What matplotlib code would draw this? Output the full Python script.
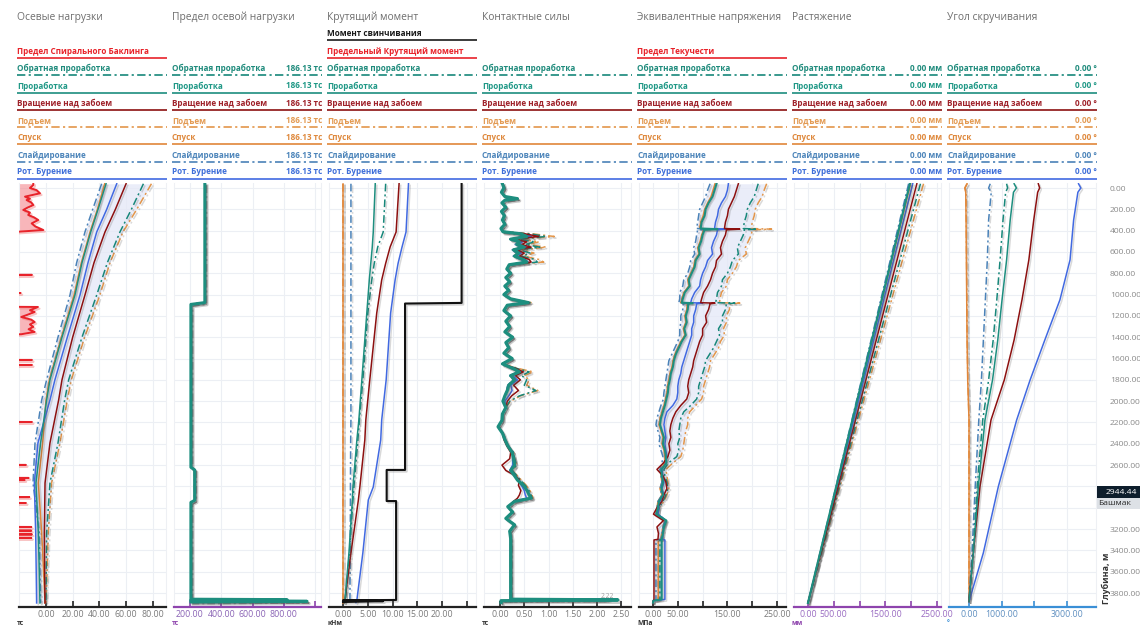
import numpy as np
import matplotlib
matplotlib.use("Agg")
import matplotlib.pyplot as plt
import matplotlib.patheffects as pe
from matplotlib.patches import Rectangle

plt.rcParams['font.family'] = ['Open Sans', 'DejaVu Sans']

# ------------------------------------------------------------------ data
DEPTH_TICKS = list(range(0, 3801, 200))
HIDDEN_DEPTH_LABELS = [2800, 3000]
SHOE_DEPTH = 2944.44

SERIES_KEYS = ["BR", "RM", "RB", "PU", "SO", "SL", "DR"]
SERIES_NAMES = ["Обратная проработка", "Проработка", "Вращение над забоем",
                "Подъем", "Спуск", "Слайдирование", "Рот. Бурение"]

PANEL_TITLES = ["Осевые нагрузки", "Предел осевой нагрузки", "Крутящий момент",
                "Контактные силы", "Эквивалентные напряжения", "Растяжение",
                "Угол скручивания"]
PANEL_UNITS = ["тс", "тс", "кНм", "тс", "МПа", "мм", "°"]
AXIAL_LIMIT_READOUT = "186.13 тс"
STRETCH_READOUT = "0.00 мм"
TWIST_READOUT = "0.00 °"

# --- axial loads, t
AXIAL_DEPTH = [-40, 200, 413, 700, 1004, 1400, 1800, 1989, 2392, 2767, 3236, 3600, 3893]
AXIAL_BR = [73, 64, 55.4, 46, 38, 27, 17, 14, 9, 3, 0.5, 0.2, 0]
AXIAL_RM = [45, 39, 33.5, 27, 21.7, 12, 3, 0.5, -4, -7.5, -5.7, -5, -4.5]
AXIAL_RB = [60, 52, 44.2, 36, 29.2, 20, 12, 9.5, 3, -0.7, -1.2, -1, -0.7]
AXIAL_PU = [79, 68, 57.7, 48, 40.4, 29, 19, 16, 10.5, 4.2, 1.7, 0.8, 0]
AXIAL_SO = [44, 38.5, 33, 26.5, 21, 11.5, 2.5, 0, -2.5, -5.7, -3.2, -1.8, -0.7]
AXIAL_SL = [41.7, 35, 29.2, 23, 18, 9, 0.5, -3.2, -8.2, -9.7, -5, -4.5, -4]
AXIAL_DR = [53, 45.5, 38, 31.5, 25.5, 16, 6.7, 3, -6, -8.7, -7.7, -7.3, -7]

# helical buckling limit (values beyond the left edge are off scale)
BUCKLING_OFFSCALE = -60
BUCKLING_TOP_DEPTH = [-40, -28, 0, 20, 50, 81, 100, 113, 135, 160, 185, 206, 230, 253,
                      275, 300, 332, 360, 394, 410]
BUCKLING_TOP_VALUE = [-9.5, -9.5, -12, -7, -4.5, -15.7, -12, -14.5, -11, -9.5, -14, -17,
                      -12, -13.3, -9, -5.8, -10.7, -8, -2, -20.7]
BUCKLING_MID_DEPTH = [1116, 1147, 1163, 1190, 1210, 1235, 1257, 1280, 1303, 1325, 1350, 1372]
BUCKLING_MID_VALUE = [-6, -12, -8.5, -14, -18.5, -11, -8.5, -12, -9.5, -13, -8.5, -18.5]
BUCKLING_SPIKE_DEPTH = [815, 985, 1613, 1660, 2195, 2598, 2720, 2740, 2900, 2955,
                        3180, 3215, 3250, 3283]
BUCKLING_SPIKE_VALUE = [-10.5, -19, -10.5, -10.5, -10.5, -15, -13, -16, -12.5, -15,
                        -11, -11, -10.5, -11]

# --- axial load limit, t (identical for all operations)
ALLOWED_DEPTH = [-40, 1075, 1092, 2620, 2645, 2930, 2950, 3858, 3862, 3868, 3878, 3884]
ALLOWED_LOAD = [295, 295, 206, 206, 230, 230, 206, 206, 820, 206, 948, 206]

# --- torque, kN*m
TORQUE_DEPTH = [-40, 413, 553, 707, 863, 1173, 1800, 2176, 2364, 2805, 2927, 3424, 3865, 3890]
TORQUE_BR = [8.6, 8.1, 7.0, 6.3, 5.8, 5.0, 4.0, 3.3, 3.0, 2.2, 2.0, 1.3, 0.5, 0.3]
TORQUE_RM = [6.5, 6.1, 5.9, 5.6, 5.3, 4.8, 3.8, 3.2, 2.8, 2.0, 1.9, 1.2, 0.4, 0.3]
TORQUE_RB = [11.3, 10.7, 9.5, 8.6, 7.8, 6.8, 5.4, 4.6, 4.4, 3.4, 3.1, 1.6, 0.4, 0.3]
TORQUE_PU = [0.02, 0.02, 0.02, 0.02, 0.02, 0.02, 0.02, 0.02, 0.02, 0.02, 0.02, 0.02, 0.02, 0.02]
TORQUE_SO = [0.05, 0.05, 0.05, 0.05, 0.05, 0.05, 0.05, 0.05, 0.05, 0.05, 0.05, 0.05, 0.05, 0.05]
TORQUE_SL = [1.6, 1.6, 1.6, 1.6, 1.6, 1.6, 1.6, 1.6, 1.55, 1.5, 1.5, 1.45, 1.4, 1.4]
TORQUE_DR = [13.2, 12.7, 11.9, 11.1, 10.5, 9.6, 8.7, 7.8, 7.6, 6.1, 5.1, 4.0, 2.8, 2.6]
MAKEUP_DEPTH = [-40, 1078, 1084, 2645, 2645, 2937, 2937, 3865, 3868, 3876, 3884]
MAKEUP_TORQUE = [23.9, 23.9, 12.5, 12.5, 8.8, 8.8, 10.7, 10.7, 0.0, 8.1, 0.0]

# --- side (contact) forces, t
CONTACT_DEPTH = [-40, 0, 40, 80, 100, 115, 140, 180, 220, 260,
                 300, 340, 380, 410, 430, 455, 480, 505, 530, 555,
                 580, 610, 640, 670, 695, 720, 760, 800, 840, 880,
                 920, 960, 1000, 1040, 1075, 1100, 1150, 1200, 1250, 1300,
                 1350, 1400, 1450, 1500, 1550, 1600, 1650, 1700, 1725, 1760,
                 1800, 1850, 1900, 1950, 2000, 2060, 2120, 2180, 2240, 2300,
                 2360, 2420, 2480, 2540, 2600, 2650, 2700, 2740, 2790, 2840,
                 2880, 2910, 2940, 2990, 3040, 3100, 3160, 3220, 3290, 3858,
                 3864, 3872, 3890]
CONTACT_RM = [0.05, 0.08, 0.03, 0.10, 0.36, 0.10, 0.04, 0.12, 0.03, 0.09,
              0.05, 0.10, 0.02, 0.06, 0.43, 0.55, 0.22, 0.40, 0.35, 0.50,
              0.28, 0.38, 0.30, 0.48, 0.55, 0.19, 0.14, 0.22, 0.12, 0.20,
              0.10, 0.18, 0.08, 0.22, 0.58, 0.15, 0.08, 0.22, 0.12, 0.20,
              0.10, 0.26, 0.12, 0.18, 0.08, 0.25, 0.05, 0.30, 0.40, 0.22,
              0.30, 0.18, 0.15, 0.10, 0.06, 0.12, 0.05, 0.04, -0.04, 0.05,
              0.10, 0.16, 0.25, 0.28, 0.30, 0.22, 0.30, 0.36, 0.48, 0.56,
              0.60, 0.64, 0.30, 0.16, 0.26, 0.12, 0.30, 0.20, 0.22, 0.22,
              2.43, 0.02, 0.02]
CONTACT_RB = [0.05, 0.08, 0.03, 0.10, 0.34, 0.10, 0.04, 0.12, 0.03, 0.09,
              0.05, 0.10, 0.02, 0.06, 0.52, 0.80, 0.30, 0.55, 0.45, 0.64,
              0.35, 0.50, 0.40, 0.60, 0.64, 0.22, 0.14, 0.22, 0.12, 0.20,
              0.10, 0.18, 0.08, 0.22, 0.60, 0.15, 0.08, 0.22, 0.12, 0.20,
              0.10, 0.26, 0.12, 0.18, 0.08, 0.25, 0.05, 0.36, 0.48, 0.32,
              0.42, 0.28, 0.38, 0.24, 0.15, 0.12, 0.05, 0.04, -0.02, 0.05,
              0.08, 0.14, 0.22, 0.20, 0.04, 0.12, 0.32, 0.40, 0.38, 0.43,
              0.40, 0.36, 0.28, 0.16, 0.26, 0.12, 0.30, 0.20, 0.22, 0.22,
              2.20, 0.02, 0.02]
CONTACT_BR = [0.05, 0.08, 0.03, 0.10, 0.36, 0.10, 0.04, 0.12, 0.03, 0.09,
              0.05, 0.10, 0.02, 0.06, 0.62, 0.95, 0.35, 0.72, 0.52, 0.82,
              0.40, 0.62, 0.45, 0.72, 0.77, 0.22, 0.14, 0.22, 0.12, 0.20,
              0.10, 0.18, 0.08, 0.22, 0.62, 0.15, 0.08, 0.22, 0.12, 0.20,
              0.10, 0.26, 0.12, 0.18, 0.08, 0.25, 0.05, 0.40, 0.60, 0.45,
              0.55, 0.50, 0.74, 0.40, 0.20, 0.12, 0.05, 0.04, -0.04, 0.05,
              0.10, 0.16, 0.28, 0.30, 0.34, 0.25, 0.35, 0.42, 0.52, 0.60,
              0.64, 0.66, 0.32, 0.16, 0.26, 0.12, 0.30, 0.20, 0.22, 0.22,
              2.30, 0.02, 0.02]
CONTACT_PU = [0.05, 0.08, 0.03, 0.10, 0.36, 0.10, 0.04, 0.12, 0.03, 0.09,
              0.05, 0.10, 0.02, 0.06, 0.68, 1.12, 0.38, 0.80, 0.58, 0.95,
              0.45, 0.70, 0.50, 0.80, 0.90, 0.22, 0.14, 0.22, 0.12, 0.20,
              0.10, 0.18, 0.08, 0.22, 0.64, 0.15, 0.08, 0.22, 0.12, 0.20,
              0.10, 0.26, 0.12, 0.18, 0.08, 0.25, 0.05, 0.44, 0.68, 0.50,
              0.60, 0.55, 0.78, 0.42, 0.22, 0.12, 0.05, 0.04, -0.04, 0.05,
              0.10, 0.16, 0.28, 0.30, 0.34, 0.25, 0.36, 0.44, 0.54, 0.62,
              0.66, 0.68, 0.32, 0.16, 0.26, 0.12, 0.30, 0.20, 0.22, 0.22,
              2.25, 0.02, 0.02]
CONTACT_SO = [0.05, 0.08, 0.03, 0.10, 0.36, 0.10, 0.04, 0.12, 0.03, 0.09,
              0.05, 0.10, 0.02, 0.06, 0.40, 0.50, 0.20, 0.38, 0.33, 0.46,
              0.26, 0.36, 0.28, 0.45, 0.52, 0.19, 0.14, 0.22, 0.12, 0.20,
              0.10, 0.18, 0.08, 0.22, 0.58, 0.15, 0.08, 0.22, 0.12, 0.20,
              0.10, 0.26, 0.12, 0.18, 0.08, 0.25, 0.05, 0.29, 0.38, 0.21,
              0.28, 0.17, 0.14, 0.10, 0.06, 0.12, 0.05, 0.04, -0.04, 0.05,
              0.10, 0.16, 0.25, 0.28, 0.30, 0.22, 0.30, 0.36, 0.48, 0.56,
              0.60, 0.64, 0.30, 0.16, 0.26, 0.12, 0.30, 0.20, 0.22, 0.22,
              2.22, 0.02, 0.02]
CONTACT_SL = [0.05, 0.08, 0.03, 0.10, 0.36, 0.10, 0.04, 0.12, 0.03, 0.09,
              0.05, 0.10, 0.02, 0.06, 0.38, 0.48, 0.20, 0.36, 0.31, 0.44,
              0.25, 0.34, 0.27, 0.43, 0.50, 0.19, 0.14, 0.22, 0.12, 0.20,
              0.10, 0.18, 0.08, 0.22, 0.58, 0.15, 0.08, 0.22, 0.12, 0.20,
              0.10, 0.26, 0.12, 0.18, 0.08, 0.25, 0.05, 0.28, 0.36, 0.20,
              0.27, 0.16, 0.13, 0.10, 0.06, 0.12, 0.05, 0.04, -0.04, 0.05,
              0.10, 0.16, 0.25, 0.28, 0.30, 0.22, 0.30, 0.36, 0.48, 0.56,
              0.60, 0.64, 0.30, 0.16, 0.26, 0.12, 0.30, 0.20, 0.22, 0.22,
              2.22, 0.02, 0.02]
CONTACT_DR = [0.05, 0.08, 0.03, 0.10, 0.36, 0.10, 0.04, 0.12, 0.03, 0.09,
              0.05, 0.10, 0.02, 0.06, 0.46, 0.65, 0.26, 0.46, 0.40, 0.56,
              0.30, 0.44, 0.34, 0.52, 0.58, 0.20, 0.14, 0.22, 0.12, 0.20,
              0.10, 0.18, 0.08, 0.22, 0.58, 0.15, 0.08, 0.22, 0.12, 0.20,
              0.10, 0.26, 0.12, 0.18, 0.08, 0.25, 0.05, 0.32, 0.44, 0.26,
              0.36, 0.22, 0.25, 0.18, 0.10, 0.12, 0.05, 0.04, -0.04, 0.05,
              0.10, 0.17, 0.26, 0.26, 0.26, 0.20, 0.31, 0.38, 0.44, 0.50,
              0.52, 0.55, 0.30, 0.16, 0.26, 0.12, 0.30, 0.20, 0.22, 0.22,
              2.22, 0.02, 0.02]
CONTACT_PEAK_LABEL = 2.22

# --- von Mises stress, MPa
STRESS_DEPTH = [-40, 20, 80, 140, 200, 260, 320, 380, 386, 392,
                440, 500, 560, 620, 680, 740, 800, 860, 920, 980,
                1040, 1076, 1080, 1086, 1140, 1200, 1260, 1320, 1380, 1440,
                1500, 1560, 1620, 1680, 1740, 1800, 1860, 1920, 1980, 2040,
                2100, 2160, 2220, 2280, 2340, 2400, 2460, 2520, 2580, 2640,
                2700, 2760, 2820, 2880, 2940, 3000, 3060, 3120, 3180, 3240,
                3296, 3302, 3860, 3872, 3890]
STRESS_RM = [128, 124, 120, 112, 106, 104, 98, 96, 130, 104,
             100, 97, 92, 94, 86, 84, 78, 72, 74, 64,
             60, 58, 80, 71, 70, 66, 68, 63, 66, 58,
             52, 46, 42, 40, 36, 34, 31, 30, 27, 24,
             20, 16, 14, 18, 22, 20, 24, 26, 27, 17,
             18, 20, 17, 20, 12, 10, 7, 27, 22, 20,
             18, 17.5, 17.5, 0.7, 0]
STRESS_RB = [172, 168, 164, 158, 152, 150, 146, 144, 175, 148,
             146, 140, 136, 138, 128, 126, 120, 116, 110, 102,
             98, 96, 125, 115, 112, 106, 108, 100, 100, 94,
             90, 86, 82, 80, 76, 72, 70, 72, 68, 56,
             46, 40, 36, 34, 36, 32, 34, 30, 21, 8,
             20, 26, 28, 22, 18, 8, 1, 21, 8, 11,
             10, 2, 2, 0.7, 0]
STRESS_DR = [152, 150, 146, 138, 132, 130, 126, 124, 150, 130,
             128, 122, 118, 120, 110, 106, 100, 96, 94, 84,
             78, 76, 100, 88, 86, 82, 82, 78, 78, 74,
             70, 66, 62, 58, 56, 52, 50, 50, 48, 40,
             28, 24, 22, 24, 26, 24, 26, 28, 26, 18,
             20, 22, 18, 22, 14, 12, 10, 26, 22, 20,
             19, 24, 24, 0.7, 0]
STRESS_SL = [115, 110, 106, 100, 94, 92, 90, 88, 115, 90,
             88, 86, 82, 84, 76, 74, 70, 62, 60, 54,
             54, 52, 70, 61, 60, 56, 56, 54, 54, 50,
             44, 38, 32, 30, 28, 26, 24, 22, 21, 16,
             12, 8, 6, 10, 14, 12, 16, 20, 18, 14,
             16, 18, 14, 18, 10, 8, 6, 24, 20, 18,
             16, 6, 6, 0.7, 0]
STRESS_SO = [125, 121, 117, 110, 104, 101, 96, 94, 128, 102,
             98, 95, 90, 92, 84, 82, 76, 70, 72, 62,
             58, 56, 78, 69, 68, 64, 66, 61, 64, 56,
             50, 44, 40, 38, 34, 32, 29, 28, 25, 22,
             18, 14, 12, 16, 20, 18, 22, 24, 24, 15,
             16, 18, 14, 18, 10, 8, 6, 24, 20, 18,
             16, 10.7, 10.7, 0.7, 0]
STRESS_BR = [212, 208, 204, 196, 190, 188, 184, 182, 210, 184,
             182, 176, 170, 172, 160, 156, 150, 140, 138, 130,
             128, 126, 165, 148, 146, 140, 140, 132, 134, 128,
             122, 114, 106, 104, 100, 96, 92, 92, 88, 76,
             62, 56, 54, 52, 54, 50, 52, 48, 31, 22,
             24, 28, 30, 26, 20, 12, 10, 26, 22, 20,
             18, 14, 14, 0.7, 0]
STRESS_PU = [229, 224, 220, 212, 206, 204, 200, 198, 239, 200,
             198, 192, 186, 188, 172, 168, 160, 150, 148, 138,
             135, 134, 175, 155, 154, 148, 148, 142, 144, 136,
             132, 124, 116, 114, 110, 106, 102, 102, 98, 86,
             74, 70, 70, 66, 64, 62, 60, 56, 40, 26,
             28, 30, 32, 28, 22, 12, 10, 24, 20, 18,
             16, 10.7, 10.7, 0.7, 0]

# --- elongation, mm
STRETCH_DEPTH = [-40, 3893]
STRETCH_BR = [2180, 0]
STRETCH_RM = [1975, 0]
STRETCH_RB = [2110, 0]
STRETCH_PU = [2240, 0]
STRETCH_SO = [1990, 0]
STRETCH_SL = [1950, 0]
STRETCH_DR = [2030, 0]

# --- twist angle, deg
TWIST_DEPTH = [-40, 0, 40, 300, 675, 1050, 1425, 1800, 2176, 2801, 3424, 3880]
TWIST_BR = [1150, 1180, 1120, 1040, 950, 850, 740, 600, 420, 250, 120, 0]
TWIST_RM = [1380, 1450, 1360, 1260, 1150, 1010, 880, 720, 489, 285, 132, 0]
TWIST_RB = [2120, 2160, 2100, 1980, 1830, 1620, 1380, 1080, 673, 336, 132, 0]
TWIST_PU = [-60, -120, -90, -85, -75, -65, -55, -35, 0, 0, 0, 0]
TWIST_SO = [-60, -130, -100, -90, -80, -70, -60, -40, 0, 0, 0, 0]
TWIST_SL = [650, 600, 680, 600, 560, 500, 440, 380, 300, 190, 90, 0]
TWIST_DR = [3350, 3420, 3330, 3200, 3090, 2780, 2320, 1870, 1458, 897, 438, 0]

# ------------------------------------------------------------------ styling
LINE_COLOR = {"BR": "#17877a", "RM": "#1d8e7f", "RB": "#8c1010", "PU": "#e3964a",
              "SO": "#e0863a", "SL": "#4a82b8", "DR": "#4169e1"}
TEXT_COLOR = {"BR": "#1f8b7c", "RM": "#1f9886", "RB": "#9f222a", "PU": "#e39a52",
              "SO": "#df893d", "SL": "#4d85ba", "DR": "#3f6fd9"}
DASHED = {"BR", "PU", "SL"}
DASH = (0, (5, 2, 1.3, 2))
DRAW_ORDER = ["PU", "SO", "SL", "BR", "DR", "RB", "RM"]
LIMIT_RED = "#e8232a"

FIG_W, FIG_H = 1140, 627
PLOT_TOP, PLOT_BOTTOM = 183, 607
PANEL_PITCH = 155
PLOT_LEFT0, PLOT_W = 19, 147
LEG_LEFT0, LEG_W = 17, 150
DEPTH_LIM = (3931, -47)

fig = plt.figure(figsize=(FIG_W / 100, FIG_H / 100), dpi=100)
fig.patch.set_facecolor("white")


def shadow(width=1.5, alpha=0.28):
    return [pe.SimpleLineShadow(offset=(width, -width), shadow_color="#555555", alpha=alpha),
            pe.Normal()]


def make_axes(i, xlim, xticks, labelled, axis_color, label_color):
    left = PLOT_LEFT0 + PANEL_PITCH * i
    ax = fig.add_axes([left / FIG_W, 1 - PLOT_BOTTOM / FIG_H,
                       PLOT_W / FIG_W, (PLOT_BOTTOM - PLOT_TOP) / FIG_H])
    ax.set_xlim(*xlim)
    ax.set_ylim(*DEPTH_LIM)
    ax.set_xticks(xticks)
    ax.set_xticklabels([f"{t:.2f}" if t in labelled else "" for t in xticks])
    ax.set_yticks(DEPTH_TICKS)
    ax.set_yticklabels([])
    ax.tick_params(axis="y", length=0)
    ax.tick_params(axis="x", direction="in", length=4, width=1.2, color=axis_color,
                   labelcolor=label_color, labelsize=6.3, pad=2.5)
    ax.grid(True, color="#eceff4", lw=0.8)
    ax.set_axisbelow(True)
    for s in ("left", "right"):
        ax.spines[s].set_color("#eef0f4")
        ax.spines[s].set_linewidth(0.8)
    ax.spines["top"].set_visible(False)
    ax.spines["bottom"].set_color(axis_color)
    ax.spines["bottom"].set_linewidth(1.6)
    return ax


def draw_series(ax, depth, values, lw=1.1, thick=None):
    for key in DRAW_ORDER:
        w = thick if (thick is not None and key == "RM") else lw
        ax.plot(values[key], depth, color=LINE_COLOR[key], lw=w,
                ls=DASH if key in DASHED else "-", zorder=3,
                path_effects=shadow(1.6 if w > 1.5 else 1.2, 0.3 if w > 1.5 else 0.22))


def envelope(ax, depth, values):
    arr = np.array([values[k] for k in SERIES_KEYS], dtype=float)
    ax.fill_betweenx(depth, arr.min(axis=0), arr.max(axis=0), color="#e4e8f7",
                     alpha=0.75, lw=0, zorder=1)


# 1 --- axial loads
ax1 = make_axes(0, (-20.2, 89.9), [0, 20, 40, 60, 80], [0, 20, 40, 60, 80], "#222222", "#7a7a7a")
axial = dict(BR=AXIAL_BR, RM=AXIAL_RM, RB=AXIAL_RB, PU=AXIAL_PU, SO=AXIAL_SO, SL=AXIAL_SL, DR=AXIAL_DR)
envelope(ax1, AXIAL_DEPTH, axial)
draw_series(ax1, AXIAL_DEPTH, axial)

# buckling limit: continuous zones plus single-depth excursions into the visible range
bd, bv = [], []
bd += [BUCKLING_TOP_DEPTH[0] - 1] + BUCKLING_TOP_DEPTH + [BUCKLING_TOP_DEPTH[-1] + 4]
bv += [BUCKLING_TOP_VALUE[0]] + BUCKLING_TOP_VALUE + [BUCKLING_OFFSCALE]
for d, v in zip(BUCKLING_SPIKE_DEPTH[:2], BUCKLING_SPIKE_VALUE[:2]):
    bd += [d - 2.5, d, d + 2.5]
    bv += [BUCKLING_OFFSCALE, v, BUCKLING_OFFSCALE]
bd += [BUCKLING_MID_DEPTH[0] - 4] + BUCKLING_MID_DEPTH + [BUCKLING_MID_DEPTH[-1] + 4]
bv += [BUCKLING_OFFSCALE] + BUCKLING_MID_VALUE + [BUCKLING_OFFSCALE]
for d, v in zip(BUCKLING_SPIKE_DEPTH[2:], BUCKLING_SPIKE_VALUE[2:]):
    bd += [d - 2.5, d, d + 2.5]
    bv += [BUCKLING_OFFSCALE, v, BUCKLING_OFFSCALE]
bd += [3893]
bv += [BUCKLING_OFFSCALE]
ax1.fill_betweenx(bd, BUCKLING_OFFSCALE, bv, color="#f4868d", alpha=0.6, lw=0, zorder=2)
ax1.plot(bv, bd, color=LIMIT_RED, lw=1.4, zorder=3,
         path_effects=[pe.SimpleLineShadow(offset=(1.2, -1.2), shadow_color="#f08080", alpha=0.45),
                       pe.Normal()])

# 2 --- axial load limit
ax2 = make_axes(1, (98, 1037), [200, 400, 600, 800, 1000], [200, 400, 600, 800], "#8e44ad", "#8a63b5")
draw_series(ax2, ALLOWED_DEPTH, {k: ALLOWED_LOAD for k in SERIES_KEYS}, thick=2.2)

# 3 --- torque
ax3 = make_axes(2, (-2.82, 26.8), [0, 5, 10, 15, 20, 25], [0, 5, 10, 15, 20], "#222222", "#7a7a7a")
torque = dict(BR=TORQUE_BR, RM=TORQUE_RM, RB=TORQUE_RB, PU=TORQUE_PU, SO=TORQUE_SO, SL=TORQUE_SL, DR=TORQUE_DR)
draw_series(ax3, TORQUE_DEPTH, torque)
ax3.plot(MAKEUP_TORQUE, MAKEUP_DEPTH, color="#111111", lw=1.5, zorder=4, path_effects=shadow(1.2, 0.25))

# 4 --- contact forces
ax4 = make_axes(3, (-0.33, 2.70), [0, 0.5, 1.0, 1.5, 2.0, 2.5], [0, 0.5, 1.0, 1.5, 2.0, 2.5],
                "#222222", "#7a7a7a")
contact = dict(BR=CONTACT_BR, RM=CONTACT_RM, RB=CONTACT_RB, PU=CONTACT_PU, SO=CONTACT_SO,
               SL=CONTACT_SL, DR=CONTACT_DR)
draw_series(ax4, CONTACT_DEPTH, contact, thick=2.3)
ax4.text(CONTACT_PEAK_LABEL, 3866, f"{CONTACT_PEAK_LABEL:.2f}", fontsize=4.8, color="#9a9a9a",
         ha="center", va="bottom", zorder=6)

# 5 --- equivalent stress
ax5 = make_axes(4, (-28.2, 268), [0, 50, 100, 150, 200, 250], [0, 50, 150, 250], "#222222", "#7a7a7a")
stress = dict(BR=STRESS_BR, RM=STRESS_RM, RB=STRESS_RB, PU=STRESS_PU, SO=STRESS_SO, SL=STRESS_SL, DR=STRESS_DR)
envelope(ax5, STRESS_DEPTH, stress)
draw_series(ax5, STRESS_DEPTH, stress, thick=1.5)

# 6 --- elongation
ax6 = make_axes(5, (-271, 2578), [0, 500, 1000, 1500, 2000, 2500], [0, 500, 1500, 2500],
                "#8e44ad", "#9a6cc2")
stretch = dict(BR=STRETCH_BR, RM=STRETCH_RM, RB=STRETCH_RB, PU=STRETCH_PU, SO=STRETCH_SO,
               SL=STRETCH_SL, DR=STRETCH_DR)
draw_series(ax6, STRETCH_DEPTH, stretch, thick=1.6)

# 7 --- twist angle, carries the depth scale on the right
ax7 = make_axes(6, (-612, 3884), [0, 1000, 2000, 3000], [0, 1000, 3000], "#3a8fd6", "#5f8fc0")
twist = dict(BR=TWIST_BR, RM=TWIST_RM, RB=TWIST_RB, PU=TWIST_PU, SO=TWIST_SO, SL=TWIST_SL, DR=TWIST_DR)
draw_series(ax7, TWIST_DEPTH, twist)
ax7.yaxis.tick_right()
ax7.set_yticklabels(["" if d in HIDDEN_DEPTH_LABELS else f"{d:.2f}" for d in DEPTH_TICKS])
ax7.tick_params(axis="y", length=0, pad=10, labelsize=6.1, labelcolor="#8a8a8a")

# ------------------------------------------------------------------ headers, legends
ov = fig.add_axes([0, 0, 1, 1], zorder=10)
ov.set_xlim(0, FIG_W)
ov.set_ylim(FIG_H, 0)
ov.axis("off")

LEG_FS = 5.9
ROW_Y = [68.5, 86, 103, 120.5, 137.5, 155, 172]
UNDER = 6.5


def legend_row(x0, y, label, tcolor, lcolor, dashed=False, readout=None):
    ov.text(x0, y, label, color=tcolor, fontsize=LEG_FS, fontweight="bold", ha="left", va="center")
    ov.plot([x0, x0 + LEG_W], [y + UNDER, y + UNDER], color=lcolor, lw=1.2,
            ls=DASH if dashed else "-", solid_capstyle="butt")
    if readout:
        ov.text(x0 + LEG_W, y, readout, color=tcolor, fontsize=LEG_FS, fontweight="bold",
                ha="right", va="center")


readouts = {1: AXIAL_LIMIT_READOUT, 5: STRETCH_READOUT, 6: TWIST_READOUT}
limit_rows = {0: [("Предел Спирального Баклинга", LIMIT_RED, 51)],
              2: [("Момент свинчивания", "#1a1a1a", 33.5), ("Предельный Крутящий момент", LIMIT_RED, 51)],
              4: [("Предел Текучести", LIMIT_RED, 51)]}
unit_colors = ["#333333", "#8e44ad", "#333333", "#333333", "#333333", "#8e44ad", "#3a8fd6"]

for i, title in enumerate(PANEL_TITLES):
    x0 = LEG_LEFT0 + PANEL_PITCH * i
    ov.text(x0, 17.5, title, color="#6e6e6e", fontsize=7.4, ha="left", va="center")
    for label, col, y in limit_rows.get(i, []):
        legend_row(x0, y, label, col, col)
    for key, name, y in zip(SERIES_KEYS, SERIES_NAMES, ROW_Y):
        legend_row(x0, y, name, TEXT_COLOR[key], LINE_COLOR[key], key in DASHED, readouts.get(i))
    ov.text(x0, 626.8, PANEL_UNITS[i], color=unit_colors[i], fontsize=4.9, fontweight="bold",
            ha="left", va="bottom")

# casing shoe marker on the depth scale
ov.add_patch(Rectangle((1097, 486), 45, 12, color="#0e1e2c", lw=0, zorder=5))
ov.text(1137, 492, f"{SHOE_DEPTH:.2f}", color="white", fontsize=6.1, ha="right", va="center", zorder=6)
ov.add_patch(Rectangle((1097, 498), 45, 11, color="#dde1e6", lw=0, zorder=5))
ov.text(1098, 503.5, "Башмак", color="#2a2a2a", fontsize=6.1, ha="left", va="center", zorder=6)
ov.text(1106, 578, "Глубина, м", color="#333333", fontsize=6.4, fontweight="bold",
        rotation=90, ha="center", va="center")

fig.savefig("out.png", dpi=100, facecolor="white")
